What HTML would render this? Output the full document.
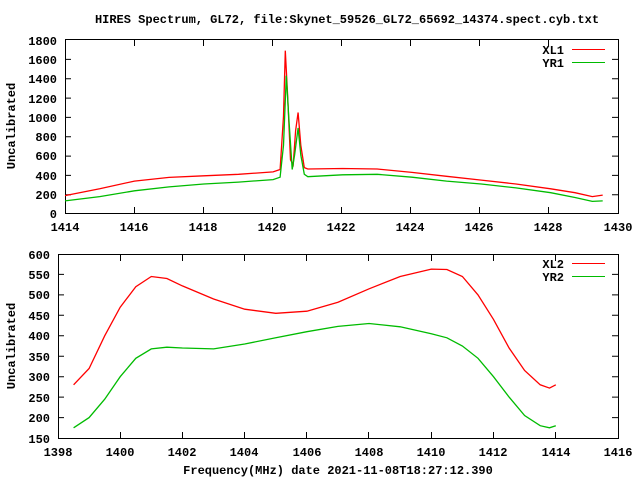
<!DOCTYPE html>
<html><head><style>
html,body{margin:0;padding:0;background:#fff;}
svg{display:block;}
text{font-family:"Liberation Mono","DejaVu Sans Mono",monospace;font-weight:bold;font-size:12px;fill:#000;}
</style></head><body>
<svg width="640" height="480" viewBox="0 0 640 480">
<text x="347" y="23" text-anchor="middle">HIRES Spectrum, GL72, file:Skynet_59526_GL72_65692_14374.spect.cyb.txt</text>
<!-- top frame -->
<rect x="65.5" y="39.5" width="553" height="174" fill="none" stroke="#000"/>
<g stroke="#000">
<path d="M65,194.7h6M65,175.4h6M65,156.1h6M65,136.7h6M65,117.4h6M65,98.1h6M65,78.8h6M65,59.4h6M618,194.7h-6M618,175.4h-6M618,156.1h-6M618,136.7h-6M618,117.4h-6M618,98.1h-6M618,78.8h-6M618,59.4h-6"/>
<path d="M134.5,213v-6M203.5,213v-6M272.5,213v-6M341.5,213v-6M410.5,213v-6M479.5,213v-6M548.5,213v-6M134.5,40v6M203.5,40v6M272.5,40v6M341.5,40v6M410.5,40v6M479.5,40v6M548.5,40v6"/>
</g>
<g text-anchor="end">
<text x="57" y="218">0</text><text x="57" y="199">200</text><text x="57" y="180">400</text><text x="57" y="160">600</text><text x="57" y="141">800</text><text x="57" y="122">1000</text><text x="57" y="103">1200</text><text x="57" y="83">1400</text><text x="57" y="64">1600</text><text x="57" y="45">1800</text>
</g>
<g text-anchor="middle">
<text x="65" y="231">1414</text><text x="134" y="231">1416</text><text x="203" y="231">1418</text><text x="272" y="231">1420</text><text x="341" y="231">1422</text><text x="410" y="231">1424</text><text x="479" y="231">1426</text><text x="548" y="231">1428</text><text x="618" y="231">1430</text>
</g>
<text transform="translate(15,126) rotate(-90)" text-anchor="middle">Uncalibrated</text>
<text x="564" y="54" text-anchor="end">XL1</text>
<text x="564" y="67" text-anchor="end">YR1</text>
<path d="M572,49.5h33" stroke="#f00"/><path d="M572,62.5h33" stroke="#0b0"/>
<polyline fill="none" stroke="#f00" stroke-width="1.3" points="65,195.6 99.7,188.8 134.4,181.1 169.1,177.4 203.8,175.8 238.5,174.3 273.1,171.9 280.1,169.5 283.5,116.3 285.3,50.6 287.7,97 290.5,159.8 293.2,164.7 295.6,130.8 298.1,112.5 300.8,145.3 304.3,167.6 307.8,169 342.5,168.5 377.2,169 411.9,172.4 446.6,176.3 481.3,180.1 516,184 550.7,188.8 575,192.7 592.3,196.6 602.7,195.1"/>
<polyline fill="none" stroke="#0b0" stroke-width="1.3" points="65,200.9 99.7,196.6 134.4,190.8 169.1,186.9 203.8,184 238.5,182.1 273.1,179.6 280.1,177.2 283.5,145.3 286.3,75.7 288.7,116.3 292.2,169.5 294.6,155 298.1,127.9 300.8,155 304.3,174.3 307.8,176.7 342.5,174.8 377.2,174.3 411.9,177.2 446.6,181.1 481.3,184 516,187.9 550.7,192.7 575,197.5 592.3,201.4 602.7,200.9"/>
<!-- bottom frame -->
<rect x="58.5" y="254.5" width="560" height="184" fill="none" stroke="#000"/>
<g stroke="#000">
<path d="M58,417.6h6M58,397.1h6M58,376.7h6M58,356.2h6M58,335.8h6M58,315.3h6M58,294.9h6M58,274.4h6M618,417.6h-6M618,397.1h-6M618,376.7h-6M618,356.2h-6M618,335.8h-6M618,315.3h-6M618,294.9h-6M618,274.4h-6"/>
<path d="M120.5,438v-6M182.5,438v-6M244.5,438v-6M306.5,438v-6M368.5,438v-6M431.5,438v-6M493.5,438v-6M555.5,438v-6M120.5,255v6M182.5,255v6M244.5,255v6M306.5,255v6M368.5,255v6M431.5,255v6M493.5,255v6M555.5,255v6"/>
</g>
<g text-anchor="end">
<text x="50" y="443">150</text><text x="50" y="422">200</text><text x="50" y="402">250</text><text x="50" y="381">300</text><text x="50" y="361">350</text><text x="50" y="340">400</text><text x="50" y="320">450</text><text x="50" y="299">500</text><text x="50" y="279">550</text><text x="50" y="259">600</text>
</g>
<g text-anchor="middle">
<text x="58" y="456">1398</text><text x="120" y="456">1400</text><text x="182" y="456">1402</text><text x="244" y="456">1404</text><text x="307" y="456">1406</text><text x="369" y="456">1408</text><text x="431" y="456">1410</text><text x="493" y="456">1412</text><text x="556" y="456">1414</text><text x="618" y="456">1416</text>
</g>
<text x="338" y="474" text-anchor="middle">Frequency(MHz) date 2021-11-08T18:27:12.390</text>
<text transform="translate(15,346) rotate(-90)" text-anchor="middle">Uncalibrated</text>
<text x="564" y="268" text-anchor="end">XL2</text>
<text x="564" y="281" text-anchor="end">YR2</text>
<path d="M572,263.5h33" stroke="#f00"/><path d="M572,276.5h33" stroke="#0b0"/>
<polyline fill="none" stroke="#f00" stroke-width="1.3" points="73.6,384.8 89.1,368.5 104.7,335.8 120.2,307.2 135.8,286.7 151.3,276.5 166.9,278.5 182.4,285.9 213.6,299 244.7,309.2 275.8,313.3 306.9,311.2 338,302.2 369.1,288.8 400.2,276.5 431.3,269.1 446.9,269.5 462.4,276.5 478,294.9 493.5,319.4 509.1,348 524.6,370.5 540.2,384.8 549.5,388.1 555.8,384.8"/>
<polyline fill="none" stroke="#0b0" stroke-width="1.3" points="73.6,427.8 89.1,417.6 104.7,399.2 120.2,376.7 135.8,358.3 151.3,348.9 166.9,347.2 182.4,348 213.6,348.9 244.7,344 275.8,337.8 306.9,331.7 338,326.4 369.1,323.5 400.2,326.8 431.3,333.7 446.9,337.8 462.4,346 478,358.3 493.5,376.7 509.1,397.1 524.6,415.5 540.2,425.7 549.5,427.8 555.8,425.7"/>
</svg>
</body></html>
